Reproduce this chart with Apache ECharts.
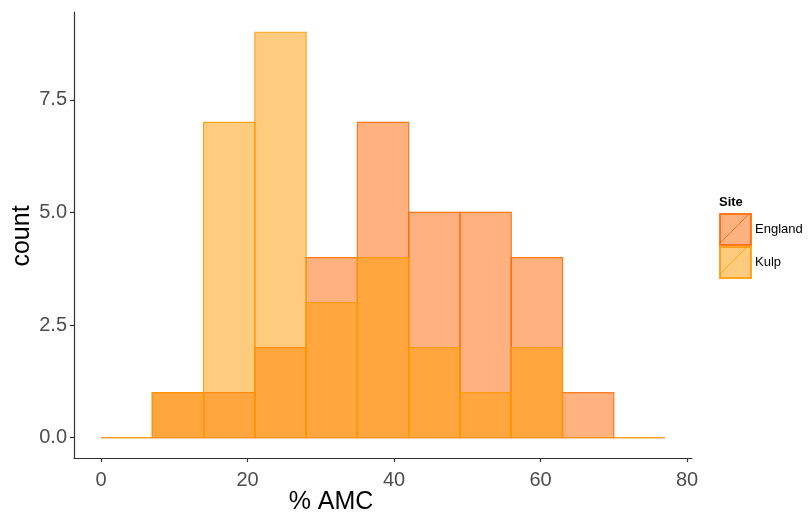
<!DOCTYPE html>
<html>
<head>
<meta charset="utf-8">
<script src="https://cdn.jsdelivr.net/npm/echarts@6/dist/echarts.min.js"></script>
<style>
html,body{margin:0;padding:0;background:#fff;}
#chart{width:810px;height:518px;}
</style>
</head>
<body>
<div id="chart"></div>
<script>
// Histogram bins (% AMC), width 7
const binEdges = [0, 7, 14, 21, 28, 35, 42, 49, 56, 63, 70, 77];
const englandCounts = [0, 1, 1, 2, 4, 7, 5, 5, 4, 1, 0];
const kulpCounts = [0, 1, 7, 9, 3, 4, 2, 1, 2, 0, 0];
const xTicks = [0, 20, 40, 60, 80];
const yTicks = [0, 2.5, 5, 7.5];
const seriesNames = ['England', 'Kulp'];

const styles = {
  England: { fill: 'rgba(255,102,0,0.5)', stroke: 'rgba(255,102,0,0.85)' },
  Kulp: { fill: 'rgba(255,153,0,0.5)', stroke: 'rgba(255,153,0,0.85)' }
};

function toData(counts) {
  return counts.map((c, i) => [binEdges[i], binEdges[i + 1], c]);
}

function makeRender(name) {
  return function (params, api) {
    const p0 = api.coord([api.value(0), 0]);
    const p1 = api.coord([api.value(1), api.value(2)]);
    return {
      type: 'rect',
      shape: { x: p0[0], y: p1[1], width: p1[0] - p0[0], height: p0[1] - p1[1] },
      style: { fill: styles[name].fill, stroke: styles[name].stroke, lineWidth: 1.2 }
    };
  };
}

const chart = echarts.init(document.getElementById('chart'), null, { renderer: 'canvas' });
const font = '"Liberation Sans", Arial, sans-serif';

const option = {
  animation: false,
  backgroundColor: '#ffffff',
  grid: { left: 74, right: 118, top: 12, bottom: 60, containLabel: false },
  xAxis: {
    type: 'value', min: -3.69, max: 80.68,
    splitLine: { show: false },
    axisLine: { show: true, onZero: false, lineStyle: { color: '#333333', width: 1.2 } },
    axisTick: { show: true, length: 4, customValues: xTicks, lineStyle: { color: '#333333', width: 1.2 } },
    axisLabel: { customValues: xTicks, margin: 12, fontSize: 20, color: '#4d4d4d', fontFamily: font }
  },
  yAxis: {
    type: 'value', min: -0.45, max: 9.45,
    splitLine: { show: false },
    axisLine: { show: true, onZero: false, lineStyle: { color: '#333333', width: 1.2 } },
    axisTick: { show: true, length: 4, customValues: yTicks, lineStyle: { color: '#333333', width: 1.2 } },
    axisLabel: { customValues: yTicks, margin: 7, fontSize: 20, color: '#4d4d4d', fontFamily: font,
      formatter: v => Number(v).toFixed(1) }
  },
  legend: {
    orient: 'vertical', left: 719, top: 213, padding: 0, itemGap: 0,
    itemWidth: 31, itemHeight: 31, icon: 'rect',
    data: seriesNames,
    textStyle: { fontSize: 13, color: '#000', fontFamily: font, padding: [2, 0, 0, -1] }
  },
  series: seriesNames.map(name => ({
    name: name,
    type: 'custom',
    renderItem: makeRender(name),
    itemStyle: { color: styles[name].fill, borderColor: styles[name].stroke, borderWidth: 1.2 },
    encode: { x: [0, 1], y: 2 },
    data: toData(name === 'England' ? englandCounts : kulpCounts)
  })),
  graphic: [
    { type: 'text', left: 719, top: 196, style: { text: 'Site', fontSize: 13, fontWeight: 'bold', fill: '#000', fontFamily: font } },
    { type: 'line', shape: { x1: 719, y1: 244, x2: 750, y2: 213 }, style: { stroke: styles.England.stroke, lineWidth: 1 } },
    { type: 'line', shape: { x1: 719, y1: 275, x2: 750, y2: 244 }, style: { stroke: styles.Kulp.stroke, lineWidth: 1 } },
    { type: 'text', x: 331, y: 502, style: { text: '% AMC', fontSize: 25, fill: '#000', fontFamily: font, align: 'center', verticalAlign: 'middle' } },
    { type: 'text', x: 22, y: 236, rotation: Math.PI / 2, style: { text: 'count', fontSize: 25, fill: '#000', fontFamily: font, align: 'center', verticalAlign: 'middle' } }
  ]
};
chart.setOption(option);
</script>
</body>
</html>
